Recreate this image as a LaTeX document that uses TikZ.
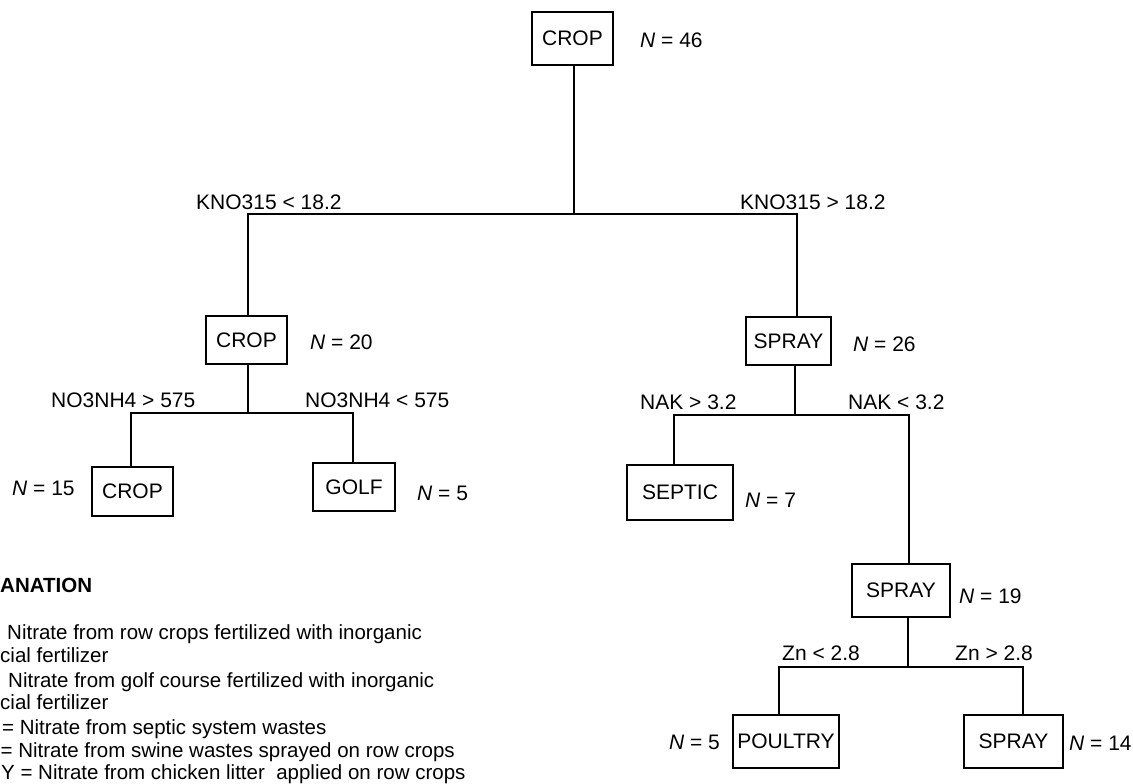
\documentclass[tikz,border=0pt]{standalone}
\usepackage{fontspec}
\setmainfont{Liberation Sans}
\begin{document}
\begin{tikzpicture}[x=1pt,y=-1pt,
  box/.style={draw, line width=1.1pt, inner sep=0pt, font=\fontsize{21}{25}\selectfont},
  lbl/.style={inner sep=0pt, anchor=base west, font=\fontsize{21}{25}\selectfont},
  lble/.style={lbl, anchor=base east},
  leg/.style={inner sep=0pt, anchor=base west, font=\fontsize{20.5}{24}\selectfont},
  conn/.style={line width=1.4pt}]
\useasboundingbox (0,0) rectangle (1133,784);

% boxes
\node[box, minimum width=81pt, minimum height=53pt] (r)   at (572.5,38.5) {CROP};
\node[box, minimum width=81pt, minimum height=48pt] (a)   at (246.5,340) {CROP};
\node[box, minimum width=85pt, minimum height=48pt] (b)   at (788.5,341) {SPRAY};
\node[box, minimum width=81pt, minimum height=49pt] (aa)  at (132.5,491.5) {CROP};
\node[box, minimum width=82pt, minimum height=48pt] (ab)  at (354,487) {GOLF};
\node[box, minimum width=106pt, minimum height=55pt] (ba) at (680,492.5) {SEPTIC};
\node[box, minimum width=98pt, minimum height=53pt] (bb)  at (901,590.5) {SPRAY};
\node[box, minimum width=106pt, minimum height=53pt] (bba) at (786,741.5) {POULTRY};
\node[box, minimum width=99pt, minimum height=53pt] (bbb) at (1013.5,741.5) {SPRAY};

% junctions
\coordinate (j0) at (574,214);
\coordinate (jl) at (248,214);
\coordinate (jr) at (797,214);
\coordinate (j1) at (248,413);
\coordinate (j1l) at (131,413);
\coordinate (j1r) at (353,413);
\coordinate (j2) at (795,415);
\coordinate (j2l) at (674,415);
\coordinate (j2r) at (909,415);
\coordinate (j3) at (908,667);
\coordinate (j3l) at (779,667);
\coordinate (j3r) at (1023,667);

% connectors
\draw[conn] (r.south -| j0) -- (j0);
\draw[conn] (a.north -| jl) -- (jl) -- (jr) -- (b.north -| jr);
\draw[conn] (a.south -| j1) -- (j1);
\draw[conn] (aa.north -| j1l) -- (j1l) -- (j1r) -- (ab.north -| j1r);
\draw[conn] (b.south -| j2) -- (j2);
\draw[conn] (ba.north -| j2l) -- (j2l) -- (j2r) -- (bb.north -| j2r);
\draw[conn] (bb.south -| j3) -- (j3);
\draw[conn] (bba.north -| j3l) -- (j3l) -- (j3r) -- (bbb.north -| j3r);

% N labels
\node[lbl] (n46) at (640,47.5) {\textit{N} = 46};
\node[lbl] (n20) at (310,349.5) {\textit{N} = 20};
\node[lbl] (n26) at (853,351.5) {\textit{N} = 26};
\node[lbl] (n15) at (12,495.5) {\textit{N} = 15};
\node[lbl] (n5a) at (417,500.5) {\textit{N} = 5};
\node[lbl] (n7)  at (745,507.5) {\textit{N} = 7};
\node[lbl] (n19) at (959,603.5) {\textit{N} = 19};
\node[lble] (n5b) at (720,749.5) {\textit{N} = 5};
\node[lbl] (n14) at (1069,750.5) {\textit{N} = 14};

% split labels
\node[lbl] (s1) at (196,209.5) {KNO315 < 18.2};
\node[lbl] (s2) at (740,209.5) {KNO315 > 18.2};
\node[lbl] (s3) at (51,407.5) {NO3NH4 > 575};
\node[lbl] (s4) at (305,407.5) {NO3NH4 < 575};
\node[lbl] (s5) at (640,409.5) {NAK > 3.2};
\node[lbl] (s6) at (848,409.5) {NAK < 3.2};
\node[lbl] (s7) at (782,660.5) {Zn < 2.8};
\node[lbl] (s8) at (955,660.5) {Zn > 2.8};

% explanation
\node[leg, font=\fontsize{20.5}{24}\selectfont\bfseries] (eh) at (0,592) {ANATION};
\node[leg] (e1) at (7,639) {Nitrate from row crops fertilized with inorganic};
\node[leg] (e2) at (0,662) {cial fertilizer};
\node[leg] (e3) at (8,687) {Nitrate from golf course fertilized with inorganic};
\node[leg] (e4) at (0,709) {cial fertilizer};
\node[leg] (e5) at (2,734) {= Nitrate from septic system wastes};
\node[leg] (e6) at (0.5,757) {= Nitrate from swine wastes sprayed on row crops};
\node[leg] (e7) at (1,779) {Y = Nitrate from chicken litter\ \ applied on row crops};
\end{tikzpicture}
\end{document}
